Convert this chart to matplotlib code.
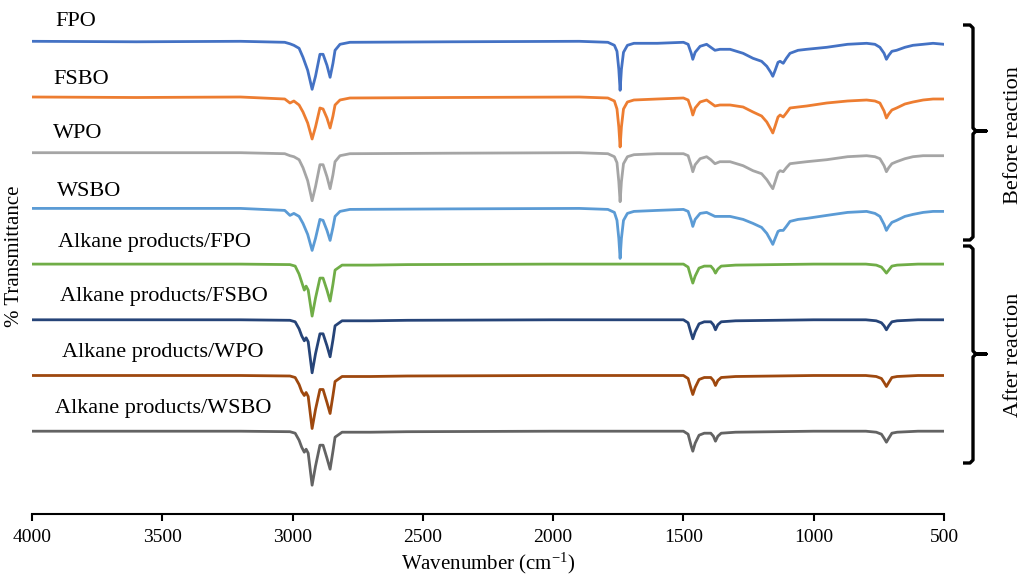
import matplotlib
matplotlib.use("Agg")
import matplotlib.pyplot as plt
from matplotlib.lines import Line2D

plt.rcParams['font.family'] = ['Liberation Serif', 'DejaVu Serif']
plt.rcParams['mathtext.fontset'] = 'custom'
plt.rcParams['mathtext.rm'] = 'Liberation Serif'
plt.rcParams['mathtext.it'] = 'Liberation Serif:italic'

# ---------------- data ----------------
wn_before = [4000, 3600, 3200, 3030, 3010, 2995, 2975, 2960, 2942, 2925, 2912, 2895, 2883,
             2868, 2856, 2845, 2837, 2818, 2780, 2400, 1900, 1790, 1765, 1755, 1748, 1743,
             1738, 1730, 1715, 1690, 1600, 1500, 1482, 1470, 1464, 1455, 1436, 1411, 1395,
             1379, 1360, 1321, 1271, 1233, 1200, 1180, 1165, 1157, 1148, 1137, 1129, 1117,
             1105, 1091, 1060, 1027, 950, 870, 797, 765, 746, 730, 721, 712, 700, 682, 650,
             619, 580, 542, 500]

t_fpo = [100, 99.5, 100, 99, 97.5, 96, 93, 84, 71, 52, 65, 87, 87,
         76, 64, 78, 91, 97, 99, 99.5, 100, 99, 96, 90, 72, 51,
         72, 89, 96, 98, 98, 99, 97, 88, 82, 89, 95, 97, 94,
         91, 92, 92, 88, 83, 80, 75, 69, 65, 71, 79, 80, 78,
         83, 88, 91, 92, 94, 97, 98, 97, 94, 88, 82, 86, 90, 91, 94,
         96, 97, 98, 97]

t_fsbo = [100, 99.5, 100, 98, 94, 96, 92, 85, 74, 58, 70, 89, 88,
          79, 69, 81, 92, 97, 99, 99.5, 100, 99, 96, 88, 70, 50,
          70, 88, 95, 97, 98, 99, 97, 88, 82, 89, 95, 97, 94,
          91, 92, 92, 90, 85, 81, 75, 68, 64, 71, 80, 82, 80,
          84, 89, 90, 91, 94, 96, 97, 96, 94, 86, 79, 83, 87, 89, 93,
          95, 97, 98, 98]

t_wpo = [100, 100, 100, 99, 97, 96, 93, 85, 72, 52, 66, 88, 88,
         76, 64, 78, 91, 97, 99, 99.5, 100, 99, 96, 90, 71, 51,
         71, 89, 96, 98, 99, 99, 97, 87, 81, 88, 94, 96, 93,
         89, 91, 91, 87, 82, 79, 73, 67, 64, 71, 80, 82, 81,
         85, 89, 90, 91, 93, 96, 97, 96, 94, 87, 81, 85, 89, 91, 94,
         96, 97, 97, 97]

t_wsbo = [100, 100, 100, 98, 93, 95, 92, 85, 74, 58, 70, 89, 88,
          78, 68, 81, 92, 97, 99, 99.5, 100, 99, 96, 88, 70, 50,
          70, 88, 95, 97, 98, 99, 97, 88, 82, 89, 95, 96, 94,
          92, 92, 92, 89, 85, 81, 75, 68, 64, 70, 77, 78, 78,
          82, 87, 89, 90, 93, 96, 97, 95, 92, 84, 78, 82, 86, 88, 92,
          94, 96, 97, 97]

wn_after = [4000, 3600, 3200, 3010, 2990, 2975, 2965, 2955, 2948, 2940, 2925, 2912, 2895,
            2883, 2868, 2856, 2845, 2837, 2810, 2700, 2560, 2000, 1600, 1500, 1482, 1470,
            1464, 1455, 1440, 1420, 1395, 1385, 1377, 1368, 1355, 1300, 1000, 800, 760,
            740, 730, 721, 712, 700, 680, 600, 500]

t_alk_fpo = [100, 100, 100, 99.5, 98, 90, 82, 74, 78, 74, 48, 66, 86,
             86, 74, 63, 80, 94, 99, 99, 99.5, 100, 100, 100, 97, 86,
             81, 88, 96, 98, 98, 95, 91, 95, 98, 99, 100, 100, 99,
             97, 94, 91, 94, 98, 99, 100, 100]

t_alk_fsbo = [100, 100, 100, 99.5, 98, 91, 84, 79, 82, 78, 47, 66, 86,
              86, 74, 63, 80, 94, 99, 99, 99.5, 100, 100, 100, 97, 86,
              81, 88, 96, 98, 98, 95, 90, 95, 98, 99, 100, 100, 99,
              97, 94, 90, 94, 98, 99, 100, 100]

t_alk_wpo = [100, 100, 100, 99.5, 98, 91, 84, 80, 83, 79, 47, 66, 86,
             86, 73, 62, 80, 94, 99, 99, 99.5, 100, 100, 100, 97, 86,
             81, 88, 96, 98, 98, 95, 90, 95, 98, 99, 100, 100, 99,
             97, 93, 89, 93, 98, 99, 100, 100]

t_alk_wsbo = [100, 100, 100, 99.5, 98, 91, 84, 79, 82, 78, 46, 65, 86,
              86, 73, 62, 80, 94, 99, 99, 99.5, 100, 100, 100, 97, 85,
              80, 88, 96, 98, 98, 95, 90, 95, 98, 99, 100, 100, 99,
              97, 93, 89, 93, 98, 99, 100, 100]

labels = ["FPO", "FSBO", "WPO", "WSBO",
          "Alkane products/FPO", "Alkane products/FSBO",
          "Alkane products/WPO", "Alkane products/WSBO"]
colors = ["#4472C4", "#ED7D31", "#A5A5A5", "#5B9BD5",
          "#70AD47", "#264478", "#9E480E", "#636363"]
series = [(wn_before, t_fpo), (wn_before, t_fsbo), (wn_before, t_wpo), (wn_before, t_wsbo),
          (wn_after, t_alk_fpo), (wn_after, t_alk_fsbo), (wn_after, t_alk_wpo), (wn_after, t_alk_wsbo)]
x_ticks = [4000, 3500, 3000, 2500, 2000, 1500, 1000, 500]

# ---------------- figure ----------------
W, H = 1023, 576
fig = plt.figure(figsize=(W / 100, H / 100), dpi=100)
ax = fig.add_axes([32 / W, (H - 514) / H, 912 / W, 514 / H])
ax.set_xlim(4000, 500)
ax.set_ylim(0, 514)

top_offset = 372.7
step = 55.7
label_px = [(55, 22), (53, 79), (53, 134), (57, 191),
            (58, 242), (60, 297), (62, 353), (55, 409)]
for i, ((wn, t), c, lab) in enumerate(zip(series, colors, labels)):
    off = top_offset - step * i
    ax.plot(wn, [v + off for v in t], color=c, lw=2.0, solid_joinstyle='round')
    lx, ly = label_px[i]
    fig.text(lx / W, 1 - ly / H, lab, fontsize=16, ha='left', va='center')

for s in ['top', 'right', 'left']:
    ax.spines[s].set_visible(False)
ax.spines['bottom'].set_linewidth(1.5)
ax.set_yticks([])
ax.set_xticks(x_ticks)
ax.set_xticklabels([str(v) for v in x_ticks])
ax.tick_params(axis='x', direction='out', length=5, width=1.5, labelsize=14, pad=6)
ax.set_xlabel("Wavenumber (cm$^{-1}$)", fontsize=15, labelpad=3)
fig.text(15 / W, 1 - 256 / H, "% Transmittance", rotation=90, fontsize=15,
         ha='center', va='center')

# ---------------- braces ----------------
def px(x, y):
    return x / W, 1 - y / H

def brace(y0, ym, y1, xl=963, xv=973, xt=986):
    pts = [px(xl, y0), px(xv - 3, y0), px(xv, y0 + 3), px(xv, ym - 3), px(xv + 3, ym),
           px(xt, ym), px(xv + 3, ym), px(xv, ym + 3), px(xv, y1 - 3), px(xv - 3, y1),
           px(xl, y1)]
    xs = [p[0] for p in pts]
    ys = [p[1] for p in pts]
    fig.add_artist(Line2D(xs, ys, color='black', lw=2.4, transform=fig.transFigure,
                          solid_joinstyle='round', solid_capstyle='butt'))

brace(25, 131, 240)
brace(246, 354, 463)
fig.text(1014 / W, 1 - 135 / H, "Before reaction", rotation=90, fontsize=16,
         ha='center', va='center')
fig.text(1014 / W, 1 - 355 / H, "After reaction", rotation=90, fontsize=16,
         ha='center', va='center')

fig.savefig("out.png", dpi=100)
